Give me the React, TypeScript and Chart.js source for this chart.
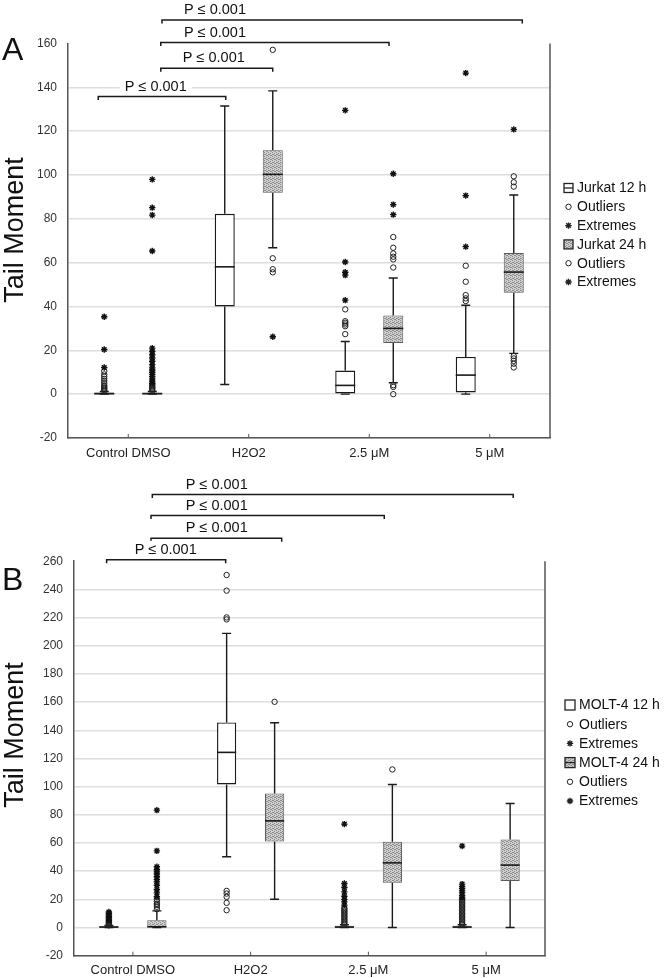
import React, { useEffect, useRef } from 'react';
import { Chart, registerables } from 'chart.js';

Chart.register(...registerables);

const FONT = '"Liberation Sans", Arial, sans-serif';

const categories = ['Control DMSO', 'H2O2', '2.5 μM', '5 μM'];
const pLabel = 'P ≤ 0.001';
const yTitle = 'Tail Moment';

// ---------- Panel A : Jurkat ----------
const aRange = [-20, 160];
const aLegend = ['Jurkat 12 h', 'Outliers', 'Extremes', 'Jurkat 24 h', 'Outliers', 'Extremes'];

const a12Min = [0, 4.4, 0, 0];
const a12Q1 = [0, 40.0, 0.3, 0.8];
const a12Med = [0.2, 58.1, 4.0, 8.7];
const a12Q3 = [0.8, 82.3, 10.8, 17.0];
const a12Max = [1.2, 131.5, 24.0, 40.6];
const a12Out = [
  [1.5, 2, 2.5, 3, 3.5, 4, 5, 6, 7, 8, 9, 10.5],
  [],
  [27.4, 31.0, 31.8, 32.6, 33.3, 38.7],
  [42.5, 43.7, 45.2, 51.3, 58.6],
];
const a12Ext = [
  [12.2, 20.4, 35.3],
  [],
  [42.9, 54.3, 55.6, 60.3, 129.5],
  [67.3, 90.6, 146.5],
];

const a24Min = [0, 66.8, 5.2, 18.6];
const a24Q1 = [0, 91.9, 23.3, 46.3];
const a24Med = [0.2, 100.3, 30.0, 55.7];
const a24Q3 = [0.8, 111.3, 35.9, 64.4];
const a24Max = [1.2, 138.4, 53.0, 90.9];
const a24Out = [
  [1.5, 2, 2.5, 3, 3.5, 4, 4.5],
  [157.1, 62.0, 57.0, 55.6],
  [0, 3.3, 4.1, 57.8, 61.5, 62.7, 64.2, 66.8, 71.7],
  [12.2, 13.9, 15.2, 16.3, 17.4, 94.7, 96.7, 99.4],
];
const a24Ext = [
  [5, 6, 7, 8, 9, 10, 11, 12, 13.5, 15, 16.5, 18, 19.5, 21, 65.3, 81.7, 85.1, 98.0],
  [26.2],
  [81.9, 86.5, 100.6],
  [120.8],
];

// ---------- Panel B : MOLT-4 ----------
const bRange = [-20, 260];
const bLegend = ['MOLT-4 12 h', 'Outliers', 'Extremes', 'MOLT-4 24 h', 'Outliers', 'Extremes'];

const b12Min = [0, 50.2, 0, 0];
const b12Q1 = [0, 101.5, 0, 0];
const b12Med = [0.3, 124.3, 0.3, 0.3];
const b12Q3 = [1.0, 145.6, 1.2, 1.2];
const b12Max = [1.5, 208.8, 2.0, 2.0];
const b12Out = [
  [1.5, 2, 2.5, 3, 3.5, 4, 4.5],
  [12.3, 17.5, 21.8, 24.1, 26.0, 218.7, 220.1, 239.1, 250.2],
  [2, 3, 4, 5, 6, 7, 8, 9, 10, 11, 12, 13, 14],
  [2, 3, 4, 5, 6, 7, 8, 9, 10, 11, 12, 13, 14, 15, 16, 17, 18, 19, 20],
];
const b12Ext = [
  [5, 6, 7, 8, 9, 10, 11],
  [],
  [15.9, 18.2, 20.0, 22.2, 25.3, 28.4, 31.2, 73.4],
  [21.0, 22.5, 24.6, 26.0, 27.7, 29.0, 30.8, 57.8],
];

const b24Min = [0, 20.1, 0, 0];
const b24Q1 = [0, 61.1, 31.7, 33.1];
const b24Med = [0.5, 75.7, 45.9, 44.3];
const b24Q3 = [5.2, 95.1, 60.8, 62.5];
const b24Max = [11.8, 145.3, 101.5, 88.0];
const b24Out = [
  [13.0, 14.7, 16.0, 17.0, 18.5, 20.0],
  [160.2],
  [112.2],
  [],
];
const b24Ext = [
  [21.8, 24.6, 27.0, 30.0, 32.4, 34.0, 36.0, 38.0, 39.5, 41.0, 43.1, 54.4, 83.3],
  [],
  [],
  [],
];

// significance brackets: [from category position, to category position, level (axis value), text position]
const aBrackets = [
  [0.28, 3.27, 170.7, 0.72],
  [0.27, 2.164, 160.4, 0.72],
  [0.27, 1.199, 148.7, 0.71],
  [-0.249, 0.809, 135.8, 0.228],
];
const bBrackets = [
  [0.165, 3.23, 307.3, 0.712],
  [0.154, 2.135, 292.4, 0.712],
  [0.154, 1.264, 276.3, 0.712],
  [-0.223, 0.788, 261.0, 0.279],
];

function makePattern(ctx: CanvasRenderingContext2D) {
  const c = document.createElement('canvas');
  c.width = 4;
  c.height = 4;
  const g = c.getContext('2d')!;
  g.fillStyle = '#cfcfcf';
  g.fillRect(0, 0, 4, 4);
  g.fillStyle = '#8c8c8c';
  [[0, 0], [2, 1], [1, 2], [3, 3], [2, 3], [0, 2]].forEach(([x, y]) => g.fillRect(x, y, 1, 1));
  return ctx.createPattern(c, 'repeat')!;
}

function drawCircle(ctx: CanvasRenderingContext2D, x: number, y: number) {
  ctx.beginPath();
  ctx.arc(x, y, 2.7, 0, Math.PI * 2);
  ctx.stroke();
}

function drawStar(ctx: CanvasRenderingContext2D, x: number, y: number) {
  const r = 3.2;
  ctx.beginPath();
  for (let k = 0; k < 4; k++) {
    const a = (k * Math.PI) / 4;
    ctx.moveTo(x - r * Math.cos(a), y - r * Math.sin(a));
    ctx.lineTo(x + r * Math.cos(a), y + r * Math.sin(a));
  }
  ctx.stroke();
}

const boxPlugin = {
  id: 'boxExtras',
  afterDatasetsDraw(chart: any, _args: any, opts: any) {
    const { ctx } = chart;
    const y = chart.scales.y;
    const stats = opts.stats;
    ctx.save();
    stats.forEach((s: any, di: number) => {
      const meta = chart.getDatasetMeta(di);
      meta.data.forEach((bar: any, i: number) => {
        const p = bar.getProps(['x', 'width'], true);
        const x = p.x;
        const half = p.width / 2;
        const cap = 4.5;
        ctx.strokeStyle = '#1a1a1a';
        ctx.lineWidth = 1.4;
        const yMin = y.getPixelForValue(s.min[i]);
        const yQ1 = y.getPixelForValue(s.q1[i]);
        const yQ3 = y.getPixelForValue(s.q3[i]);
        const yMax = y.getPixelForValue(s.max[i]);
        ctx.beginPath();
        ctx.moveTo(x, yQ3);
        ctx.lineTo(x, yMax);
        ctx.moveTo(x - cap, yMax);
        ctx.lineTo(x + cap, yMax);
        ctx.moveTo(x, yQ1);
        ctx.lineTo(x, yMin);
        ctx.moveTo(x - cap, yMin);
        ctx.lineTo(x + cap, yMin);
        ctx.stroke();
        const yMed = y.getPixelForValue(s.med[i]);
        ctx.lineWidth = 1.6;
        ctx.beginPath();
        ctx.moveTo(x - half, yMed);
        ctx.lineTo(x + half, yMed);
        ctx.stroke();
        ctx.lineWidth = 1;
        ctx.strokeStyle = '#222';
        s.out[i].forEach((v: number) => drawCircle(ctx, x, y.getPixelForValue(v)));
        ctx.lineWidth = 1.4;
        ctx.strokeStyle = '#111';
        s.ext[i].forEach((v: number) => drawStar(ctx, x, y.getPixelForValue(v)));
      });
    });
    ctx.restore();
  },
};

const annotPlugin = {
  id: 'annots',
  afterDraw(chart: any, _args: any, opts: any) {
    const { ctx, chartArea } = chart;
    const xs = chart.scales.x;
    const ys = chart.scales.y;
    ctx.save();
    // right border
    ctx.strokeStyle = '#555';
    ctx.lineWidth = 1.5;
    ctx.beginPath();
    ctx.moveTo(chartArea.right, chartArea.top);
    ctx.lineTo(chartArea.right, chartArea.bottom);
    ctx.stroke();
    // inward x ticks
    ctx.lineWidth = 1;
    categories.forEach((_, i) => {
      const px = xs.getPixelForValue(i);
      ctx.beginPath();
      ctx.moveTo(px, chartArea.bottom);
      ctx.lineTo(px, chartArea.bottom - 4);
      ctx.stroke();
    });
    // brackets
    ctx.font = `14.5px ${FONT}`;
    ctx.textAlign = 'center';
    ctx.textBaseline = 'alphabetic';
    opts.brackets.forEach((b: number[]) => {
      const x1 = xs.getPixelForValue(b[0]);
      const x2 = xs.getPixelForValue(b[1]);
      const yy = ys.getPixelForValue(b[2]);
      const tx = xs.getPixelForValue(b[3]);
      ctx.strokeStyle = '#1a1a1a';
      ctx.lineWidth = 1.5;
      ctx.beginPath();
      ctx.moveTo(x1, yy + 3.5);
      ctx.lineTo(x1, yy);
      ctx.lineTo(x2, yy);
      ctx.lineTo(x2, yy + 3.5);
      ctx.stroke();
      const w = ctx.measureText(pLabel).width;
      ctx.fillStyle = '#fff';
      ctx.fillRect(tx - w / 2 - 5, yy - 19, w + 10, 15);
      ctx.fillStyle = '#111';
      ctx.fillText(pLabel, tx, yy - 6);
    });
    // y title
    ctx.save();
    ctx.translate(opts.titleX, opts.titleY);
    ctx.rotate(-Math.PI / 2);
    ctx.font = `27px ${FONT}`;
    ctx.textAlign = 'center';
    ctx.textBaseline = 'middle';
    ctx.fillStyle = '#111';
    ctx.fillText(yTitle, 0, 0);
    ctx.restore();
    // panel letter
    ctx.font = `32px ${FONT}`;
    ctx.textAlign = 'left';
    ctx.textBaseline = 'alphabetic';
    ctx.fillStyle = '#111';
    ctx.fillText(opts.letter, 2, opts.letterY);
    // legend
    const L = opts.legend;
    ctx.font = `14px ${FONT}`;
    ctx.textBaseline = 'middle';
    L.labels.forEach((t: string, k: number) => {
      const cy = L.y + k * L.dy;
      const ix = L.x;
      const s = L.icon;
      ctx.lineWidth = 1;
      ctx.strokeStyle = '#222';
      if (k === 0 || k === 3) {
        ctx.fillStyle = k === 0 ? '#fff' : opts.pattern;
        ctx.fillRect(ix, cy - s / 2, s, s);
        ctx.lineWidth = 1.3;
        ctx.strokeRect(ix, cy - s / 2, s, s);
        if ((k === 0 && L.line12) || (k === 3 && L.line24)) {
          ctx.beginPath();
          ctx.moveTo(ix, cy);
          ctx.lineTo(ix + s, cy);
          ctx.stroke();
        }
      } else if (k === 1 || k === 4) {
        drawCircle(ctx, ix + s / 2, cy);
      } else {
        ctx.lineWidth = 1.4;
        drawStar(ctx, ix + s / 2, cy);
      }
      ctx.fillStyle = '#111';
      ctx.fillText(t, L.textX, cy + 0.5);
    });
    ctx.restore();
  },
};

function buildChart(canvas: HTMLCanvasElement, p: any) {
  const ctx = canvas.getContext('2d')!;
  const pattern = makePattern(ctx);
  const ds = (s: any, bg: any, border: string, bw: number) => ({
    data: s.q1.map((v: number, i: number) => [v, s.q3[i]]),
    backgroundColor: bg,
    borderColor: border,
    borderWidth: bw,
    borderSkipped: false,
    barPercentage: p.barPct,
    categoryPercentage: p.catPct,
  });
  return new Chart(canvas, {
    type: 'bar',
    data: {
      labels: categories,
      datasets: [ds(p.s12, '#ffffff', '#1a1a1a', 1.4), ds(p.s24, pattern, '#5a5a5a', 1)] as any,
    },
    options: {
      responsive: false,
      animation: false,
      events: [],
      layout: { padding: { left: 0, right: p.padRight, top: p.padTop, bottom: 0 } },
      plugins: {
        legend: { display: false },
        tooltip: { enabled: false },
        boxExtras: { stats: [p.s12, p.s24] },
        annots: {
          brackets: p.brackets,
          titleX: p.titleX,
          titleY: p.titleY,
          letter: p.letter,
          letterY: p.letterY,
          legend: p.legend,
          pattern,
        },
      } as any,
      scales: {
        x: {
          grid: { display: false, drawTicks: false },
          border: { color: '#555', width: 1.5 },
          ticks: { font: { family: FONT, size: 13 }, color: '#222', padding: p.xPad, maxRotation: 0 },
          afterFit: (s: any) => {
            s.height = p.xAxisH;
          },
        },
        y: {
          min: p.range[0],
          max: p.range[1],
          ticks: { stepSize: 20, font: { family: FONT, size: 12 }, color: '#333', padding: 11 },
          grid: {
            color: (c: any) => (c.tick && c.tick.value === p.range[1] ? 'rgba(0,0,0,0)' : '#dedede'),
            lineWidth: 1.5,
            drawTicks: false,
          },
          border: { color: '#555', width: 1.5 },
          afterFit: (s: any) => {
            s.width = p.yAxisW;
          },
        },
      } as any,
    },
    plugins: [boxPlugin, annotPlugin],
  });
}

function Panel(props: { p: any; width: number; height: number; top: number }) {
  const ref = useRef<HTMLCanvasElement>(null);
  useEffect(() => {
    const chart = buildChart(ref.current!, props.p);
    return () => chart.destroy();
  }, []);
  return (
    <canvas
      ref={ref}
      width={props.width}
      height={props.height}
      style={{ position: 'absolute', left: 0, top: props.top, width: props.width, height: props.height }}
    />
  );
}

const panelA = {
  range: aRange,
  s12: { min: a12Min, q1: a12Q1, med: a12Med, q3: a12Q3, max: a12Max, out: a12Out, ext: a12Ext },
  s24: { min: a24Min, q1: a24Q1, med: a24Med, q3: a24Q3, max: a24Max, out: a24Out, ext: a24Ext },
  brackets: aBrackets,
  barPct: 0.417,
  catPct: 0.797,
  padRight: 116,
  padTop: 43.5,
  yAxisW: 68,
  xAxisH: 32,
  xPad: 8,
  titleX: 16,
  titleY: 230,
  letter: 'A',
  letterY: 60,
  legend: { labels: aLegend, x: 564, textX: 577, y: 188, dy: 18.8, icon: 9, line12: true, line24: false },
};

const panelB = {
  range: bRange,
  s12: { min: b12Min, q1: b12Q1, med: b12Med, q3: b12Q3, max: b12Max, out: b12Out, ext: b12Ext },
  s24: { min: b24Min, q1: b24Q1, med: b24Med, q3: b24Q3, max: b24Max, out: b24Out, ext: b24Ext },
  brackets: bBrackets,
  barPct: 0.4,
  catPct: 0.815,
  padRight: 121,
  padTop: 91.2,
  yAxisW: 74,
  xAxisH: 22.3,
  xPad: 7,
  titleX: 16,
  titleY: 265,
  letter: 'B',
  letterY: 120,
  legend: { labels: bLegend, x: 565, textX: 579, y: 235, dy: 19.2, icon: 10, line12: false, line24: true },
};

export default function App() {
  return (
    <div style={{ position: 'absolute', left: 0, top: 0, width: 666, height: 978, background: '#fff', overflow: 'hidden' }}>
      <Panel p={panelA} width={666} height={470} top={0} />
      <Panel p={panelB} width={666} height={508} top={470} />
    </div>
  );
}
